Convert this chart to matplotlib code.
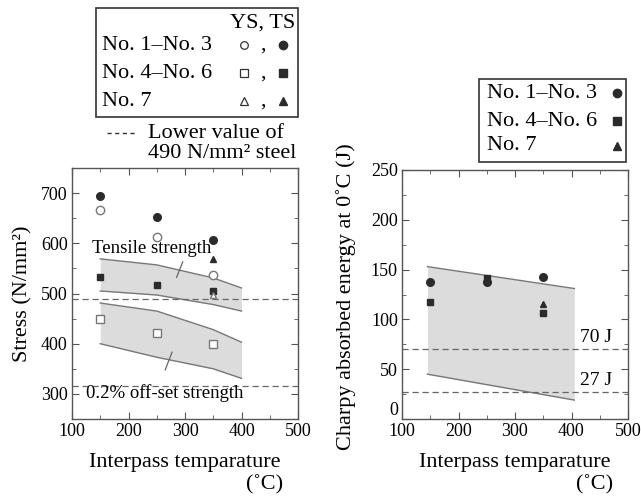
import matplotlib
matplotlib.use("Agg")
import matplotlib.pyplot as plt
from matplotlib.patches import Rectangle
from matplotlib.ticker import MultipleLocator

plt.rcParams["font.family"] = ["Liberation Serif", "DejaVu Serif"]

# ---- data ----
temps = [150, 250, 350]

# stress (N/mm2), left panel
ts_no1_3 = [695, 653, 606]
ys_no1_3 = [667, 612, 537]
ts_no4_6 = [533, 516, 505]
ys_no4_6 = [450, 421, 400]
temp_no7 = [350]
ts_no7 = [569]
ys_no7 = [498]

band_t = [150, 250, 350, 400]
ts_band_hi = [569, 557, 531, 511]
ts_band_lo = [505, 497, 478, 465]
ys_band_hi = [481, 465, 428, 403]
ys_band_lo = [400, 373, 350, 331]
lower_ts = 490
lower_ys = 315

# Charpy energy (J), right panel
cv_no1_3 = [138, 138, 143]
cv_no4_6 = [117, 142, 106]
cv_no7 = [115]
cv_band_t = [145, 405]
cv_band_hi = [153, 131]
cv_band_lo = [45, 19]
cv_limits = [70, 27]
cv_limit_labels = ["70 J", "27 J"]
cv_ticks = [0, 50, 100, 150, 200, 250]

W, H = 641, 499
fig = plt.figure(figsize=(W / 100, H / 100), dpi=100)


def px_axes(l, t, r, b):
    return fig.add_axes([l / W, (H - b) / H, (r - l) / W, (b - t) / H])


DARK = "#2b2b2b"
GREY = "#666666"
FILL = "#dcdcdc"
EDGE = "#777777"


def style(ax, ymaj, ymin):
    ax.set_xlim(100, 500)
    ax.xaxis.set_major_locator(MultipleLocator(100))
    ax.xaxis.set_minor_locator(MultipleLocator(50))
    ax.yaxis.set_major_locator(MultipleLocator(ymaj))
    ax.yaxis.set_minor_locator(MultipleLocator(ymin))
    ax.tick_params(which="both", direction="in", top=True, right=True,
                   color="#555555", labelsize=13, pad=3)
    ax.tick_params(which="major", length=5)
    ax.tick_params(which="minor", length=3)
    for s in ax.spines.values():
        s.set_color("#555555")
        s.set_linewidth(1.0)


# ---- left panel ----
ax1 = px_axes(72, 168, 298, 419)
ax1.fill_between(band_t, ts_band_lo, ts_band_hi, color=FILL, lw=0)
ax1.plot(band_t, ts_band_hi, color=EDGE, lw=1)
ax1.plot(band_t, ts_band_lo, color=EDGE, lw=1)
ax1.fill_between(band_t, ys_band_lo, ys_band_hi, color=FILL, lw=0)
ax1.plot(band_t, ys_band_hi, color=EDGE, lw=1)
ax1.plot(band_t, ys_band_lo, color=EDGE, lw=1)
ax1.axhline(lower_ts, color=GREY, lw=0.9, ls=(0, (5, 3)))
ax1.axhline(lower_ys, color=GREY, lw=0.9, ls=(0, (5, 3)))

filled = dict(ls="none", color=DARK, zorder=5)
hollow = dict(ls="none", mfc="white", mec="#777777", mew=1.0, zorder=5)
ax1.plot(temps, ts_no1_3, "o", ms=5.5, **filled)
ax1.plot(temps, ys_no1_3, "o", ms=6, **hollow)
ax1.plot(temps, ts_no4_6, "s", ms=5, **filled)
ax1.plot(temps, ys_no4_6, "s", ms=5.5, **hollow)
ax1.plot(temp_no7, ts_no7, "^", ms=4.5, **filled)
ax1.plot(temp_no7, ys_no7, "^", ms=4.5, **hollow)

ax1.text(136, 590, "Tensile strength", fontsize=13.5, va="center", ha="left")
ax1.plot([296, 285], [563, 532], color=GREY, lw=0.9)
ax1.text(125, 302, "0.2% off-set strength", fontsize=13.5, va="center", ha="left")
ax1.plot([277, 265], [383, 348], color=GREY, lw=0.9)

style(ax1, 100, 50)
ax1.set_ylim(250, 750)
ax1.set_yticks([300, 400, 500, 600, 700])
ax1.set_ylabel("Stress (N/mm²)", fontsize=16)
ax1.yaxis.set_label_coords(-0.175, 0.5)

# ---- right panel ----
ax2 = px_axes(402, 170, 628, 419)
ax2.fill_between(cv_band_t, cv_band_lo, cv_band_hi, color=FILL, lw=0)
ax2.plot(cv_band_t, cv_band_hi, color=EDGE, lw=1)
ax2.plot(cv_band_t, cv_band_lo, color=EDGE, lw=1)
for v, lab in zip(cv_limits, cv_limit_labels):
    ax2.axhline(v, color=GREY, lw=0.9, ls=(0, (5, 3)))
    ax2.text(472, v + 12, lab, fontsize=14, ha="right", va="center")

ax2.plot(temps, cv_no1_3, "o", ms=5.5, **filled)
ax2.plot(temps, cv_no4_6, "s", ms=5, **filled)
ax2.plot(temp_no7, cv_no7, "^", ms=4.5, **filled)

style(ax2, 50, 25)
ax2.set_ylim(0, 250)
# the "0" label sits slightly raised in the original, clear of the "100" below
ax2.set_yticks(cv_ticks, [""] + [str(t) for t in cv_ticks[1:]])
ax2.text(-0.018, cv_ticks[0], str(cv_ticks[0]), transform=ax2.get_yaxis_transform(),
         ha="right", va="bottom", fontsize=13)
ax2.set_ylabel("Charpy absorbed energy at 0˚C (J)", fontsize=16)
ax2.yaxis.set_label_coords(-0.205, 0.49)

# ---- overlay in pixel coords: x labels and legends ----
ov = fig.add_axes([0, 0, 1, 1], facecolor="none")
ov.set_xlim(0, W)
ov.set_ylim(H, 0)
ov.axis("off")

for cx, rx in [(185, 283), (515, 613)]:
    ov.text(cx, 463, "Interpass temparature", fontsize=16, ha="center", va="center")
    ov.text(rx, 485, "(˚C)", fontsize=16, ha="right", va="center")

# left legend
ov.add_patch(Rectangle((96, 8), 202, 109, fill=False, ec="#333333", lw=1.2))
ov.text(295, 23, "YS, TS", fontsize=16, ha="right", va="center")
rows = ["No. 1–No. 3", "No. 4–No. 6", "No. 7"]
marks = ["o", "s", "^"]
for y, lab, m in zip([45, 73, 101], rows, marks):
    ov.text(102, y, lab, fontsize=16, ha="left", va="center")
    ov.plot(244, y, m, ms=5.5, mfc="white", mec="#333333", mew=0.9)
    ov.text(263, y, ",", fontsize=16, ha="center", va="center")
    ov.plot(283, y, m, ms=6, color=DARK)
ov.plot([107, 137], [133, 133], color="#333333", lw=1, ls=(0, (3, 2.5)))
ov.text(148, 133, "Lower value of", fontsize=16, ha="left", va="center")
ov.text(148, 153, "490 N/mm² steel", fontsize=16, ha="left", va="center")

# right legend
ov.add_patch(Rectangle((479, 79), 147, 83, fill=False, ec="#333333", lw=1.2))
for y, lab, m in zip([93, 121, 146], rows, marks):
    ov.text(487, y, lab, fontsize=16, ha="left", va="center")
    ov.plot(617, y, m, ms=6, color=DARK)

fig.savefig("out.png", dpi=100)
